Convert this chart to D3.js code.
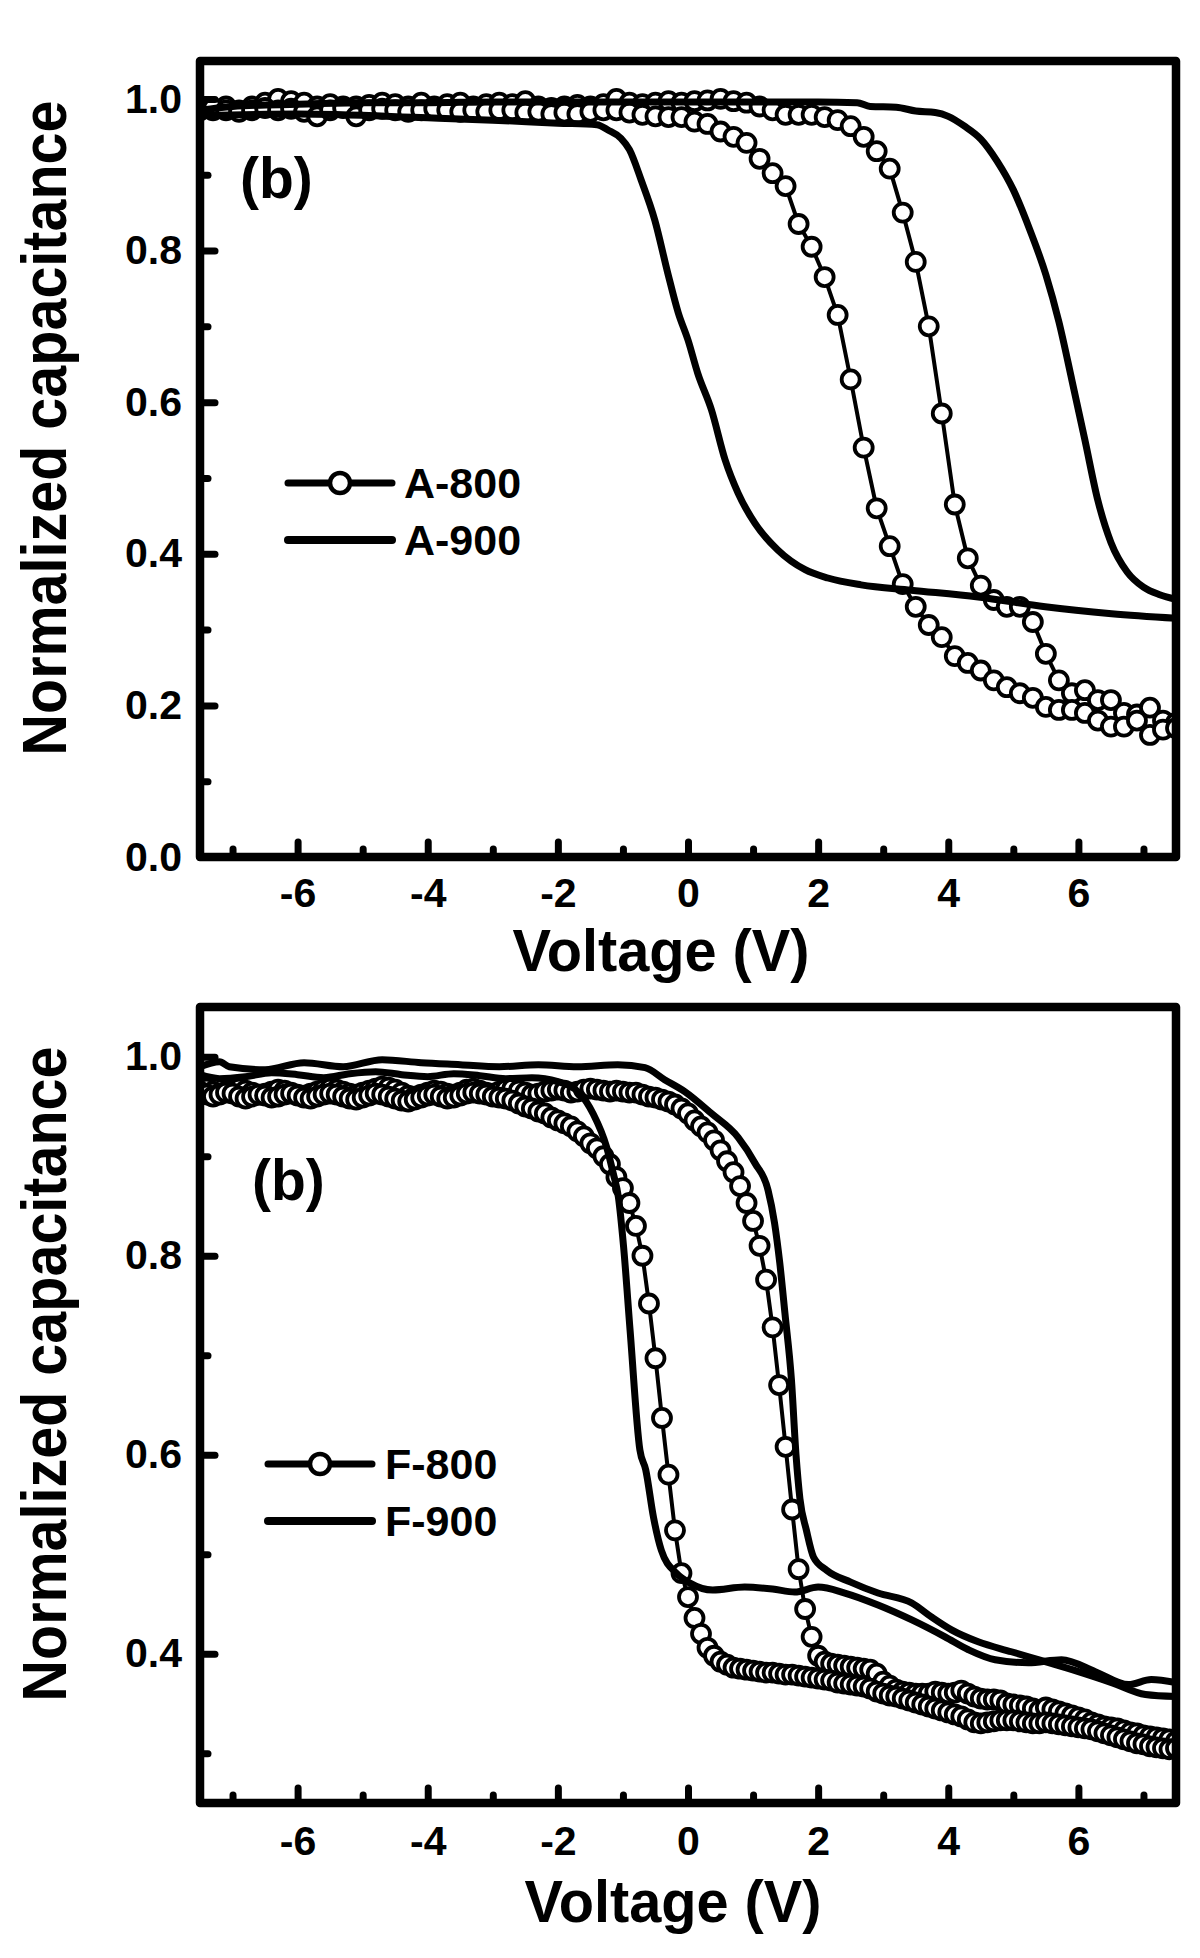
<!DOCTYPE html>
<html>
<head>
<meta charset="utf-8">
<script src="https://cdn.jsdelivr.net/npm/d3@7"></script>
<style>
  body { margin: 0; background: #fff; }
  svg { display: block; background: #fff; }
</style>
</head>
<body>
<svg id="chart" width="1200" height="1958"></svg>
<script>
// ---------------- DATA ----------------
// Top panel: A-800 (symbols, 0.2 V sweep) and A-900 (line)
const voltA = [
  -7.5,-7.3,-7.1,-6.9,-6.7,-6.5,-6.3,-6.1,-5.9,-5.7,
  -5.5,-5.3,-5.1,-4.9,-4.7,-4.5,-4.3,-4.1,-3.9,-3.7,
  -3.5,-3.3,-3.1,-2.9,-2.7,-2.5,-2.3,-2.1,-1.9,-1.7,
  -1.5,-1.3,-1.1,-0.9,-0.7,-0.5,-0.3,-0.1,0.1,0.3,
  0.5,0.7,0.9,1.1,1.3,1.5,1.7,1.9,2.1,2.3,
  2.5,2.7,2.9,3.1,3.3,3.5,3.7,3.9,4.1,4.3,
  4.5,4.7,4.9,5.1,5.3,5.5,5.7,5.9,6.1,6.3,
  6.5,6.7,6.9,7.1,7.3,7.5
];
const a800Forward = [
  0.99,0.985,0.99,0.985,0.99,0.995,1.0,0.997,0.995,0.99,
  0.993,0.99,0.99,0.992,0.995,0.993,0.99,0.995,0.99,0.993,
  0.995,0.99,0.993,0.995,0.993,0.997,0.99,0.988,0.99,0.992,
  0.99,0.993,1.0,0.995,0.993,0.995,0.997,0.995,0.997,0.998,
  1.0,0.997,0.995,0.99,0.985,0.979,0.979,0.979,0.976,0.972,
  0.964,0.95,0.931,0.908,0.85,0.785,0.70,0.585,0.465,0.394,
  0.358,0.339,0.33,0.33,0.31,0.268,0.233,0.216,0.22,0.207,
  0.207,0.19,0.188,0.197,0.18,0.177
];
const a800Reverse = [
  0.985,0.988,0.985,0.983,0.985,0.988,0.985,0.987,0.983,0.977,
  0.985,0.988,0.977,0.985,0.987,0.985,0.983,0.985,0.987,0.985,
  0.983,0.985,0.983,0.985,0.985,0.982,0.983,0.98,0.982,0.98,
  0.983,0.985,0.985,0.982,0.979,0.977,0.976,0.976,0.97,0.967,
  0.957,0.95,0.942,0.921,0.902,0.885,0.835,0.805,0.765,0.715,
  0.63,0.54,0.46,0.41,0.36,0.33,0.306,0.29,0.265,0.256,
  0.246,0.233,0.224,0.216,0.21,0.198,0.194,0.194,0.19,0.18,
  0.172,0.172,0.18,0.161,0.168,0.17
];
const a900ForwardV = [-7.5,-7.0,-6.0,-5.0,-4.0,-3.0,-2.0,-1.0,0.0,1.0,2.0,2.6,2.8,3.2,3.5,3.8,4.0,4.25,4.5,4.75,5.0,5.25,5.5,5.7,5.9,6.1,6.3,6.5,6.75,7.0,7.25,7.5];
const a900ForwardC = [0.985,0.99,0.993,0.995,0.995,0.996,0.996,0.996,0.996,0.996,0.996,0.995,0.99,0.989,0.984,0.982,0.977,0.964,0.947,0.918,0.88,0.828,0.768,0.706,0.629,0.55,0.47,0.415,0.376,0.356,0.346,0.34];
const a900ReverseV = [-7.5,-6.0,-4.0,-3.0,-2.0,-1.4,-1.23,-1.03,-0.9,-0.72,-0.51,-0.31,-0.15,0.0,0.15,0.36,0.57,0.77,1.03,1.38,1.8,2.15,2.66,3.43,4.46,5.49,6.51,7.5];
const a900ReverseC = [0.978,0.98,0.975,0.972,0.968,0.966,0.959,0.948,0.933,0.893,0.84,0.77,0.718,0.682,0.638,0.59,0.524,0.48,0.44,0.405,0.379,0.368,0.359,0.352,0.343,0.33,0.321,0.315];

// Bottom panel: F-800 (symbols, 0.1 V sweep) and F-900 (line)
const voltF = [
  -7.5,-7.4,-7.3,-7.2,-7.1,-7.0,-6.9,-6.8,-6.7,-6.6,
  -6.5,-6.4,-6.3,-6.2,-6.1,-6.0,-5.9,-5.8,-5.7,-5.6,
  -5.5,-5.4,-5.3,-5.2,-5.1,-5.0,-4.9,-4.8,-4.7,-4.6,
  -4.5,-4.4,-4.3,-4.2,-4.1,-4.0,-3.9,-3.8,-3.7,-3.6,
  -3.5,-3.4,-3.3,-3.2,-3.1,-3.0,-2.9,-2.8,-2.7,-2.6,
  -2.5,-2.4,-2.3,-2.2,-2.1,-2.0,-1.9,-1.8,-1.7,-1.6,
  -1.5,-1.4,-1.3,-1.2,-1.1,-1.0,-0.9,-0.8,-0.7,-0.6,
  -0.5,-0.4,-0.3,-0.2,-0.1,0.0,0.1,0.2,0.3,0.4,
  0.5,0.6,0.7,0.8,0.9,1.0,1.1,1.2,1.3,1.4,
  1.5,1.6,1.7,1.8,1.9,2.0,2.1,2.2,2.3,2.4,
  2.5,2.6,2.7,2.8,2.9,3.0,3.1,3.2,3.3,3.4,
  3.5,3.6,3.7,3.8,3.9,4.0,4.1,4.2,4.3,4.4,
  4.5,4.6,4.7,4.8,4.9,5.0,5.1,5.2,5.3,5.4,
  5.5,5.6,5.7,5.8,5.9,6.0,6.1,6.2,6.3,6.4,
  6.5,6.6,6.7,6.8,6.9,7.0,7.1,7.2,7.3,7.4,
  7.5
];
const f800Forward = [
  0.97,0.968,0.965,0.963,0.965,0.967,0.968,0.966,0.964,0.962,
  0.963,0.965,0.967,0.966,0.964,0.962,0.961,0.963,0.965,0.967,
  0.968,0.967,0.965,0.963,0.962,0.964,0.966,0.968,0.97,0.969,
  0.967,0.964,0.961,0.96,0.962,0.964,0.966,0.965,0.963,0.962,
  0.964,0.967,0.968,0.966,0.964,0.963,0.965,0.967,0.968,0.966,
  0.964,0.962,0.963,0.965,0.966,0.967,0.966,0.964,0.965,0.967,
  0.968,0.967,0.966,0.965,0.966,0.965,0.964,0.964,0.962,0.96,
  0.959,0.957,0.955,0.952,0.948,0.943,0.936,0.93,0.924,0.916,
  0.906,0.895,0.884,0.87,0.853,0.835,0.81,0.776,0.728,0.67,
  0.608,0.545,0.485,0.445,0.417,0.398,0.392,0.39,0.389,0.388,
  0.387,0.386,0.385,0.384,0.38,0.372,0.368,0.364,0.362,0.361,
  0.36,0.36,0.36,0.362,0.361,0.36,0.361,0.363,0.36,0.357,
  0.355,0.354,0.354,0.353,0.35,0.349,0.348,0.347,0.345,0.343,
  0.346,0.344,0.342,0.34,0.338,0.336,0.334,0.331,0.329,0.327,
  0.326,0.325,0.323,0.321,0.32,0.318,0.317,0.316,0.315,0.314,
  0.312
];
const f800Reverse = [
  0.965,0.962,0.96,0.962,0.964,0.963,0.96,0.958,0.96,0.962,
  0.961,0.959,0.96,0.962,0.963,0.961,0.959,0.958,0.96,0.962,
  0.963,0.962,0.96,0.958,0.957,0.959,0.961,0.963,0.962,0.96,
  0.958,0.956,0.955,0.957,0.959,0.961,0.962,0.96,0.958,0.959,
  0.961,0.963,0.964,0.963,0.962,0.96,0.959,0.958,0.956,0.953,
  0.95,0.948,0.945,0.943,0.939,0.936,0.933,0.93,0.925,0.92,
  0.913,0.908,0.9,0.892,0.879,0.868,0.853,0.83,0.8,0.752,
  0.697,0.637,0.58,0.524,0.481,0.457,0.436,0.42,0.406,0.398,
  0.392,0.389,0.386,0.385,0.384,0.383,0.382,0.381,0.381,0.38,
  0.379,0.379,0.378,0.377,0.376,0.375,0.374,0.373,0.371,0.37,
  0.369,0.368,0.367,0.365,0.362,0.36,0.358,0.357,0.355,0.353,
  0.351,0.349,0.347,0.345,0.343,0.341,0.339,0.337,0.334,0.331,
  0.33,0.331,0.332,0.333,0.333,0.333,0.332,0.331,0.33,0.33,
  0.331,0.33,0.329,0.328,0.327,0.326,0.325,0.324,0.322,0.32,
  0.318,0.316,0.314,0.312,0.31,0.309,0.307,0.306,0.305,0.304,
  0.305
];
const f900ForwardV = [-7.5,-7.2,-7.05,-6.5,-5.9,-5.3,-4.7,-4.1,-3.5,-2.9,-2.3,-1.7,-1.08,-0.66,-0.36,-0.05,0.36,0.77,1.03,1.23,1.33,1.41,1.49,1.59,1.66,1.72,1.82,1.93,2.13,2.5,2.92,3.44,3.74,4.05,4.46,4.97,5.49,6.0,6.51,7.03,7.5];
const f900ForwardC = [0.99,0.995,0.99,0.987,0.994,0.99,0.997,0.994,0.992,0.99,0.992,0.99,0.992,0.989,0.977,0.965,0.943,0.919,0.893,0.866,0.833,0.793,0.742,0.675,0.6,0.556,0.524,0.497,0.484,0.472,0.461,0.451,0.437,0.424,0.412,0.402,0.392,0.382,0.371,0.359,0.357];
const f900ReverseV = [-7.5,-7.2,-6.8,-6.4,-6.0,-5.6,-5.2,-4.8,-4.4,-4.0,-3.6,-3.2,-2.8,-2.4,-2.0,-1.66,-1.46,-1.25,-1.15,-1.07,-0.99,-0.89,-0.74,-0.65,-0.53,-0.41,-0.18,0.03,0.38,0.87,1.3,1.64,2.0,2.41,2.92,3.44,3.95,4.31,4.72,5.23,5.74,6.26,6.77,7.12,7.5];
const f900ReverseC = [0.982,0.978,0.98,0.984,0.982,0.979,0.983,0.985,0.982,0.98,0.983,0.981,0.978,0.979,0.975,0.963,0.943,0.909,0.883,0.859,0.809,0.725,0.605,0.585,0.537,0.504,0.481,0.471,0.464,0.467,0.465,0.462,0.467,0.461,0.449,0.434,0.417,0.404,0.394,0.391,0.394,0.382,0.369,0.374,0.371];

// Axes ticks and labels
const xMajorTicks = [-6, -4, -2, 0, 2, 4, 6];
const xMinorTicks = [-7, -5, -3, -1, 1, 3, 5, 7];
const yMajorTop = [0.0, 0.2, 0.4, 0.6, 0.8, 1.0];
const yMinorTop = [0.1, 0.3, 0.5, 0.7, 0.9];
const yMajorBottom = [0.4, 0.6, 0.8, 1.0];
const yMinorBottom = [0.3, 0.5, 0.7, 0.9];
const seriesTop = ["A-800", "A-900"];
const seriesBottom = ["F-800", "F-900"];
const xTitle = "Voltage (V)";
const yTitle = "Normalized capacitance";
const panelTag = "(b)";

// ---------------- DRAWING ----------------
const FONT = '"Liberation Sans", Arial, Helvetica, sans-serif';
const svg = d3.select('#chart');
const defs = svg.append('defs');
const X0 = 200, X1 = 1176;

function drawPanel(p) {
  const x = d3.scaleLinear().domain([-7.5, 7.5]).range([X0, X1]);
  const y = d3.scaleLinear().domain(p.yDomain).range([p.bottom, p.top]);
  const g = svg.append('g');

  defs.append('clipPath').attr('id', 'clip' + p.id)
    .append('rect').attr('x', X0).attr('y', p.top)
    .attr('width', X1 - X0).attr('height', p.bottom - p.top);
  const plot = g.append('g').attr('clip-path', `url(#clip${p.id})`);

  const straight = d3.line().x(d => x(d[0])).y(d => y(d[1]));
  const smooth = d3.line().x(d => x(d[0])).y(d => y(d[1])).curve(d3.curveMonotoneX);

  // symbol series (connecting line + open circles)
  const branches800 = [p.s800f, p.s800r].map(arr => p.v800.map((v, i) => [v, arr[i]]));
  branches800.forEach(pts => {
    plot.append('path').attr('d', straight(pts))
      .attr('fill', 'none').attr('stroke', '#000').attr('stroke-width', 4)
      .attr('stroke-linejoin', 'round');
  });
  branches800.forEach(pts => {
    plot.append('g').selectAll('circle').data(pts).join('circle')
      .attr('cx', d => x(d[0])).attr('cy', d => y(d[1])).attr('r', 9)
      .attr('fill', '#fff').attr('stroke', '#000').attr('stroke-width', 3.8);
  });

  // line series
  [[p.s900fv, p.s900fc], [p.s900rv, p.s900rc]].forEach(([vv, cc]) => {
    const pts = vv.map((v, i) => [v, cc[i]]);
    plot.append('path').attr('d', smooth(pts))
      .attr('fill', 'none').attr('stroke', '#000').attr('stroke-width', 7)
      .attr('stroke-linejoin', 'round').attr('stroke-linecap', 'round');
  });

  // frame
  g.append('rect').attr('x', X0).attr('y', p.top)
    .attr('width', X1 - X0).attr('height', p.bottom - p.top)
    .attr('fill', 'none').attr('stroke', '#000').attr('stroke-width', 8.5)
    .attr('stroke-linejoin', 'round');

  // axes
  const styleAxis = sel => {
    sel.select('.domain').remove();
    sel.selectAll('.tick line').attr('stroke', '#000').attr('stroke-width', 7).attr('stroke-linecap', 'round');
    sel.selectAll('.tick text').attr('fill', '#000')
      .style('font-family', FONT).style('font-weight', 'bold').style('font-size', '41px');
  };
  g.append('g').attr('transform', `translate(0,${p.bottom})`)
    .call(d3.axisBottom(x).tickValues(xMinorTicks).tickSize(-8).tickFormat(''))
    .call(styleAxis);
  g.append('g').attr('transform', `translate(0,${p.bottom})`)
    .call(d3.axisBottom(x).tickValues(xMajorTicks).tickSize(-15).tickPadding(p.xPad).tickFormat(d => String(d)))
    .call(styleAxis);
  g.append('g').attr('transform', `translate(${X0},0)`)
    .call(d3.axisLeft(y).tickValues(p.yMinor).tickSize(-8).tickFormat(''))
    .call(styleAxis);
  g.append('g').attr('transform', `translate(${X0},0)`)
    .call(d3.axisLeft(y).tickValues(p.yMajor).tickSize(-15).tickPadding(18).tickFormat(d3.format('.1f')))
    .call(styleAxis);

  // panel tag
  g.append('text').attr('x', p.tagX).attr('y', p.tagY).text(panelTag)
    .style('font-family', FONT).style('font-weight', 'bold').style('font-size', '57px');

  // legend
  const lg = g.append('g');
  const lx1 = p.legX1, lx2 = p.legX2;
  lg.append('line').attr('x1', lx1).attr('x2', lx2).attr('y1', p.legY1).attr('y2', p.legY1)
    .attr('stroke', '#000').attr('stroke-width', 7).attr('stroke-linecap', 'round');
  lg.append('circle').attr('cx', (lx1 + lx2) / 2).attr('cy', p.legY1).attr('r', 10)
    .attr('fill', '#fff').attr('stroke', '#000').attr('stroke-width', 4.5);
  lg.append('line').attr('x1', lx1).attr('x2', lx2).attr('y1', p.legY2).attr('y2', p.legY2)
    .attr('stroke', '#000').attr('stroke-width', 8).attr('stroke-linecap', 'round');
  [[p.names[0], p.legY1], [p.names[1], p.legY2]].forEach(([t, yy]) => {
    lg.append('text').attr('x', p.legTextX).attr('y', yy + 15).text(t)
      .style('font-family', FONT).style('font-weight', 'bold').style('font-size', '43px');
  });

  // axis titles
  g.append('text').attr('x', p.xTitleX).attr('y', p.xTitleY).attr('text-anchor', 'middle')
    .attr('textLength', 297).attr('lengthAdjust', 'spacingAndGlyphs').text(xTitle)
    .style('font-family', FONT).style('font-weight', 'bold').style('font-size', '60px');
  g.append('text').attr('transform', `translate(66,${p.yTitleY}) rotate(-90)`)
    .attr('text-anchor', 'middle').attr('textLength', 655).attr('lengthAdjust', 'spacingAndGlyphs')
    .text(yTitle)
    .style('font-family', FONT).style('font-weight', 'bold').style('font-size', '63px');
}

drawPanel({
  id: 'A', top: 61, bottom: 857, yDomain: [0, 1.05],
  yMajor: yMajorTop, yMinor: yMinorTop, xPad: 21,
  v800: voltA, s800f: a800Forward, s800r: a800Reverse,
  s900fv: a900ForwardV, s900fc: a900ForwardC, s900rv: a900ReverseV, s900rc: a900ReverseC,
  names: seriesTop, legX1: 288, legX2: 392, legY1: 483, legY2: 540, legTextX: 404,
  tagX: 240, tagY: 198, xTitleX: 661, xTitleY: 971, yTitleY: 428
});
drawPanel({
  id: 'F', top: 1007, bottom: 1803, yDomain: [0.25, 1.05],
  yMajor: yMajorBottom, yMinor: yMinorBottom, xPad: 23,
  v800: voltF, s800f: f800Forward, s800r: f800Reverse,
  s900fv: f900ForwardV, s900fc: f900ForwardC, s900rv: f900ReverseV, s900rc: f900ReverseC,
  names: seriesBottom, legX1: 268, legX2: 372, legY1: 1464, legY2: 1521, legTextX: 385,
  tagX: 252, tagY: 1200, xTitleX: 673, xTitleY: 1922, yTitleY: 1374
});
</script>
</body>
</html>
